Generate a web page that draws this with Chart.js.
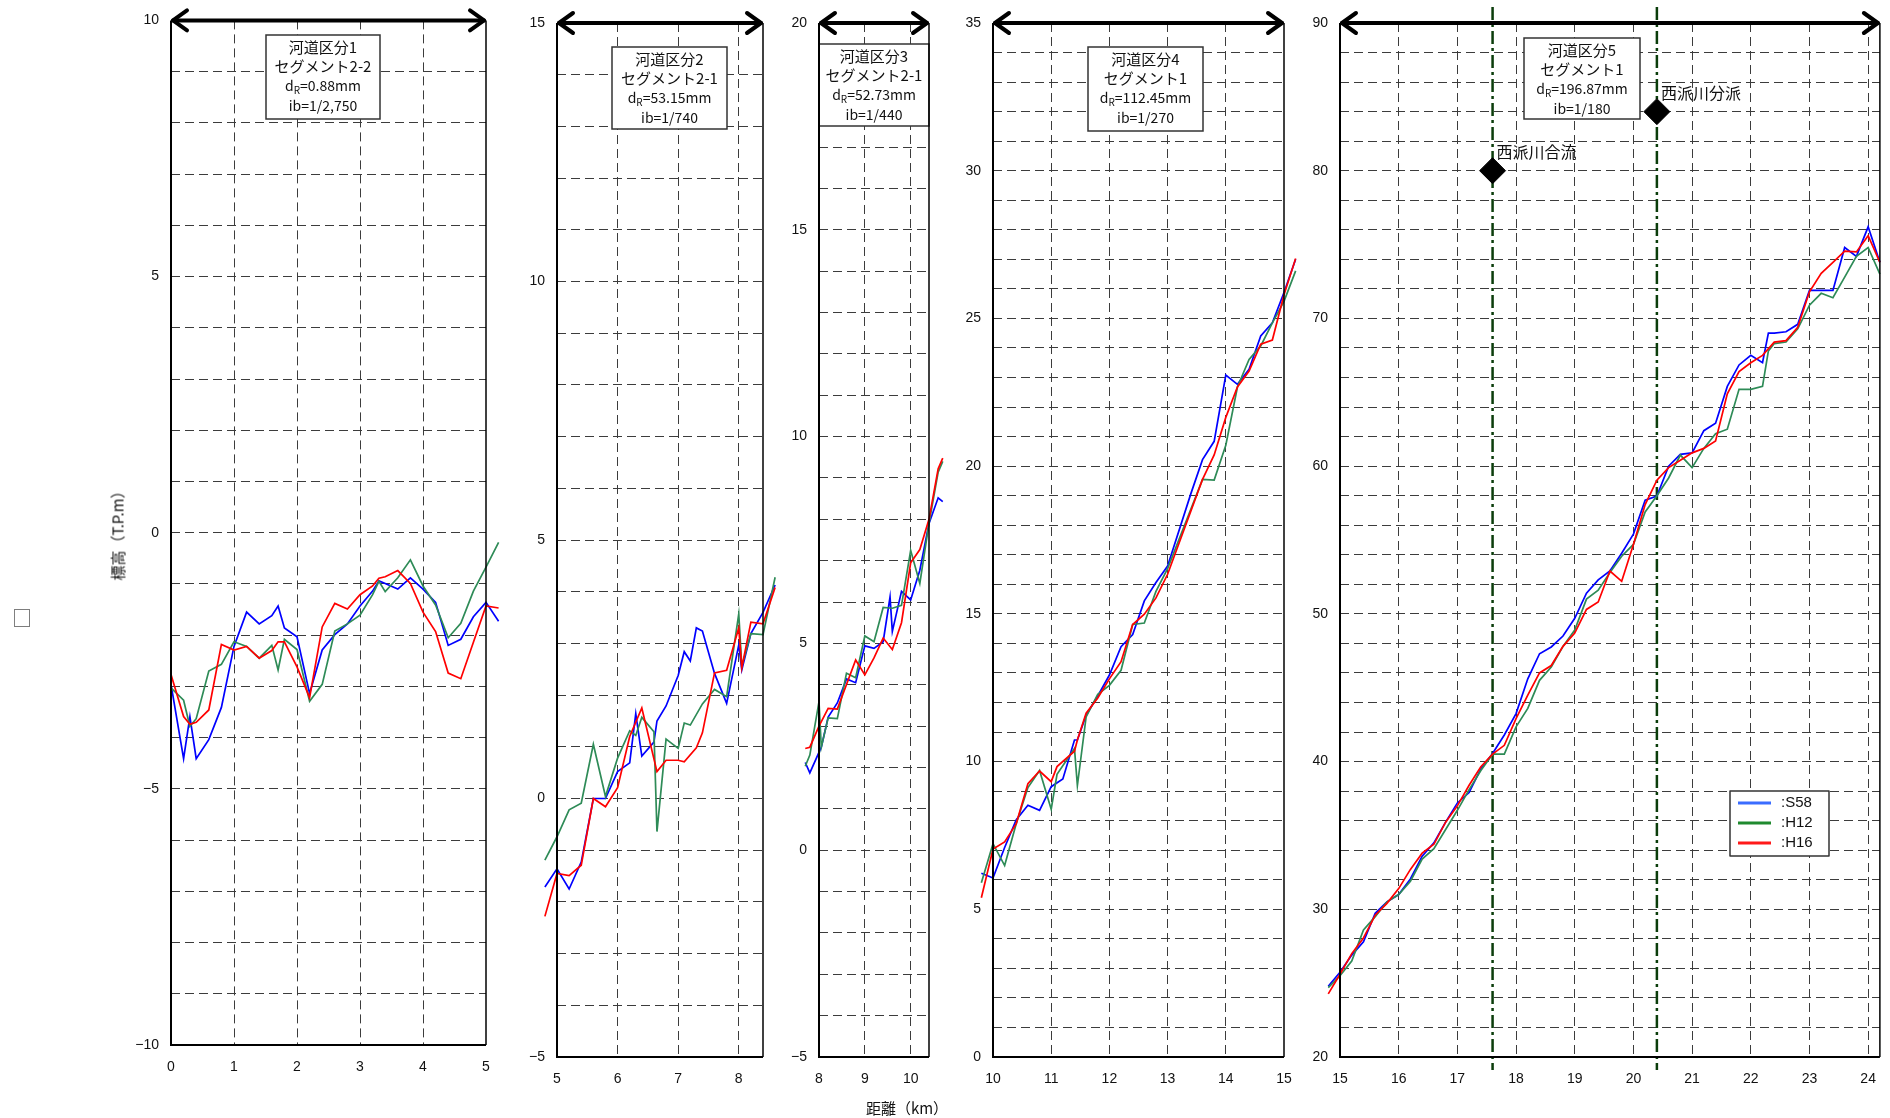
<!DOCTYPE html>
<html><head><meta charset="utf-8">
<script src="https://cdn.jsdelivr.net/npm/chart.js@4.4.1/dist/chart.umd.min.js"></script>
<style>
html,body{margin:0;padding:0;background:#fff;}
#wrap{position:relative;width:1890px;height:1118px;overflow:hidden;background:#fff;}
#wrap canvas{position:absolute;left:0;top:0;}
.t{position:absolute;font-family:"Noto Sans CJK JP",sans-serif;color:#111;white-space:nowrap;}
</style></head>
<body><div id="wrap">
<canvas id="c1" width="1890" height="1118"></canvas>
<canvas id="c2" width="1890" height="1118"></canvas>
<canvas id="c3" width="1890" height="1118"></canvas>
<canvas id="c4" width="1890" height="1118"></canvas>
<canvas id="c5" width="1890" height="1118"></canvas>
<div class="t" id="ytitle" style="left:117px;top:532px;font-size:15px;transform:translate(-50%,-50%) rotate(-90deg);">標高（T.P.m）</div>
<div class="t" id="xtitle" style="left:907px;top:1107px;font-size:15px;transform:translate(-50%,-50%);">距離（km）</div>
<div class="t" id="sq" style="left:22px;top:617px;font-size:20px;color:#555;transform:translate(-50%,-50%);">□</div>
</div>
<script>
// ---------------- data ----------------
const seriesNames = ['S58', 'H12', 'H16'];

const dist1 = [0,0.2,0.3,0.4,0.6,0.8,1.0,1.2,1.4,1.6,1.7,1.8,2.0,2.2,2.4,2.6,2.8,3.0,3.2,3.3,3.4,3.6,3.8,4.0,4.2,4.4,4.6,4.8,5.0,5.2];
const s58_1 = [-2.96,-4.41,-3.59,-4.41,-4.04,-3.41,-2.22,-1.55,-1.78,-1.62,-1.43,-1.86,-2.03,-3.14,-2.29,-1.99,-1.78,-1.43,-1.14,-0.94,-0.99,-1.10,-0.88,-1.10,-1.36,-2.20,-2.08,-1.64,-1.36,-1.73];
const h12_1 = [-3.03,-3.27,-3.78,-3.63,-2.70,-2.57,-2.13,-2.22,-2.45,-2.20,-2.68,-2.08,-2.28,-3.29,-2.96,-1.92,-1.78,-1.61,-1.21,-0.95,-1.15,-0.88,-0.53,-1.04,-1.41,-2.05,-1.77,-1.14,-0.67,-0.19];
const h16_1 = [-2.77,-3.59,-3.74,-3.70,-3.46,-2.18,-2.29,-2.22,-2.45,-2.30,-2.13,-2.13,-2.62,-3.22,-1.84,-1.38,-1.49,-1.21,-1.04,-0.89,-0.86,-0.74,-0.99,-1.55,-1.93,-2.74,-2.85,-2.14,-1.43,-1.47];

const dist2 = [4.8,5.0,5.2,5.4,5.6,5.8,6.0,6.2,6.3,6.4,6.6,6.65,6.8,7.0,7.1,7.2,7.3,7.4,7.6,7.8,8.0,8.05,8.2,8.4,8.6];
const s58_2 = [-1.71,-1.36,-1.75,-1.23,0.0,0.0,0.52,0.69,1.64,0.82,1.09,1.50,1.79,2.38,2.84,2.66,3.30,3.24,2.42,1.84,2.97,2.49,3.19,3.60,4.13];
const h12_2 = [-1.19,-0.74,-0.22,-0.09,1.05,0.04,0.78,1.31,1.22,1.57,1.29,-0.64,1.15,0.97,1.46,1.42,null,1.83,2.11,1.97,3.57,2.56,3.19,3.17,4.28];
const h16_2 = [-2.28,-1.45,-1.49,-1.29,0.0,-0.16,0.21,1.20,null,1.75,null,0.52,0.74,0.74,0.71,null,0.98,1.27,2.43,2.48,3.30,2.53,3.41,3.38,4.08];

const dist3 = [7.7,7.8,8.0,8.05,8.2,8.4,8.6,8.8,9.0,9.2,9.4,9.55,9.6,9.8,10.0,10.2,10.4,10.6,10.7];
const s58_3 = [2.12,1.87,null,2.49,3.22,3.56,4.14,4.05,4.94,4.88,5.04,6.12,5.29,6.26,6.05,6.77,7.9,8.52,8.43];
const h12_3 = [2.03,2.3,3.59,2.49,3.20,3.18,4.28,4.17,5.18,5.04,5.87,null,5.85,5.92,7.25,6.45,7.9,9.14,9.40];
const h16_3 = [2.46,2.49,3.0,null,3.43,3.41,null,4.60,4.24,4.65,5.13,null,4.85,5.50,6.95,7.27,8.0,9.22,9.48];

const dist4 = [9.8,10.0,10.2,10.4,10.6,10.8,11.0,11.1,11.2,11.4,11.45,11.6,11.8,12.0,12.2,12.4,12.6,12.8,13.0,13.4,13.6,13.8,14.0,14.2,14.4,14.6,14.8,15.0,15.2];
const s58_4 = [6.22,6.06,7.09,8.03,8.52,8.35,9.15,null,9.41,10.73,10.73,11.57,12.22,12.93,13.89,14.30,15.44,16.06,16.62,19.07,20.22,20.84,23.08,22.77,23.28,24.41,24.85,25.88,27.0];
const h12_4 = [5.90,7.22,6.48,7.90,9.12,9.70,8.39,9.57,null,10.44,9.19,11.51,12.28,12.58,13.09,14.64,14.69,15.76,16.53,null,19.55,19.53,20.71,22.68,23.61,24.07,24.85,25.58,26.61];
const h16_4 = [5.39,7.04,7.28,7.90,9.25,9.68,9.32,9.83,null,10.35,10.73,11.64,12.15,12.80,13.38,14.64,14.99,15.54,16.34,null,19.55,20.38,21.65,22.68,23.22,24.13,24.27,25.8,27.03];

const dist5 = [14.8,15.0,15.2,15.4,15.6,15.8,16.0,16.2,16.4,16.6,16.8,17.0,17.2,17.4,17.6,17.8,18.0,18.2,18.4,18.6,18.8,19.0,19.2,19.4,19.6,19.8,20.0,20.2,20.4,20.6,20.8,21.0,21.2,21.4,21.6,21.8,22.0,22.2,22.3,22.4,22.6,22.8,23.0,23.2,23.4,23.6,23.8,24.0,24.2];
const s58_5 = [24.79,25.74,26.9,27.8,29.73,30.5,31.0,32.05,33.6,34.5,35.9,37.2,37.9,39.5,40.55,41.8,43.25,45.6,47.3,47.76,48.5,49.7,51.4,52.3,52.9,54.1,55.4,57.7,57.97,60.0,60.8,60.9,62.4,62.9,65.4,66.85,67.5,67.0,69.0,69.0,69.1,69.6,71.9,71.9,71.9,74.8,74.2,76.2,73.8];
const h12_5 = [24.7,25.5,26.5,28.6,29.5,30.5,31.0,31.9,33.4,34.1,35.4,36.7,38.1,39.4,40.5,40.5,42.35,43.6,45.5,46.4,47.8,48.9,51.0,51.6,52.8,53.9,54.7,56.9,58.0,59.2,60.75,59.9,61.2,62.2,62.5,65.2,65.2,65.4,67.8,68.3,68.4,69.3,70.9,71.7,71.4,72.8,74.2,74.8,73.0];
const h16_5 = [24.27,25.6,27.0,28.06,29.6,30.4,31.4,32.7,33.8,34.4,35.9,37.0,38.4,39.65,40.5,41.1,42.9,44.5,46.0,46.5,47.8,48.7,50.3,50.8,52.9,52.2,54.7,57.4,59.05,59.9,60.4,60.9,61.2,61.7,64.9,66.4,67.0,67.5,null,68.4,68.5,69.4,71.8,73.05,73.8,74.55,74.5,75.6,73.8];

const reachNames = ['河道区分1','河道区分2','河道区分3','河道区分4','河道区分5'];
const segmentNames = ['セグメント2-2','セグメント2-1','セグメント2-1','セグメント1','セグメント1'];
const grainSizes = ['0.88mm','53.15mm','52.73mm','112.45mm','196.87mm'];
const bedSlopes = ['1/2,750','1/740','1/440','1/270','1/180'];

const markerNames = ['西派川合流','西派川分派'];
const markerKm = [17.6, 20.4];
const markerElev = [80, 84];

// ---------------- layout / style ----------------
const COLORS = ['#0000ff', '#2e8b57', '#ff0000'];
const LEGEND_COLORS = ['#3a6cff', '#1f8a2e', '#ff1a1a'];
const YW = 50, XH = 40, W = 1890, H = 1118;
const panels = [
  {dist:dist1, vals:[s58_1,h12_1,h16_1], area:{l:171,r:486,t:20,b:1045}, xr:[0,5], yr:[-10,10], yStep:1, yLab:5, box:{l:266,t:35,w:114,h:84}},
  {dist:dist2, vals:[s58_2,h12_2,h16_2], area:{l:557,r:763,t:23,b:1057}, xr:[5,8.4], yr:[-5,15], yStep:1, yLab:5, box:{l:612,t:47,w:115,h:82}},
  {dist:dist3, vals:[s58_3,h12_3,h16_3], area:{l:819,r:929,t:23,b:1057}, xr:[8,10.4], yr:[-5,20], yStep:1, yLab:5, box:{l:819,t:44,w:110,h:82}},
  {dist:dist4, vals:[s58_4,h12_4,h16_4], area:{l:993,r:1284,t:23,b:1057}, xr:[10,15], yr:[0,35], yStep:1, yLab:5, box:{l:1088,t:47,w:115,h:84}},
  {dist:dist5, vals:[s58_5,h12_5,h16_5], area:{l:1340,r:1887,t:23,b:1057}, xr:[15,24.2], yr:[20,90], yStep:2, yLab:10, box:{l:1524,t:38,w:116,h:81}}
];
const CJK = '"Noto Sans CJK JP", sans-serif';
const NUMF = '"Liberation Sans", Arial, sans-serif';
const fmt = v => (v < 0 ? '\u2212' + Math.abs(v) : String(v));
const GRID = '#3c3c3c';
const NONE = 'rgba(0,0,0,0)';

function line(ctx, x1, y1, x2, y2) { ctx.beginPath(); ctx.moveTo(x1, y1); ctx.lineTo(x2, y2); ctx.stroke(); }

function makePanel(i) {
  const P = panels[i];
  const datasets = P.vals.map((v, k) => ({
    label: seriesNames[k],
    data: P.dist.map((d, j) => ({x: d, y: v[j]})),
    borderColor: COLORS[k], backgroundColor: COLORS[k],
    borderWidth: 1.7, pointRadius: 0, tension: 0, spanGaps: true, clip: false, fill: false,
    order: 3 - k
  }));
  if (i === 4) {
    datasets.push({
      label: 'markers', type: 'scatter',
      data: markerKm.map((d, j) => ({x: d, y: markerElev[j]})),
      pointStyle: 'rectRot', pointRadius: 13, backgroundColor: '#000', borderColor: '#000',
      showLine: false, clip: false, order: 0
    });
  }
  const decor = {
    id: 'decor' + i,
    beforeDatasetsDraw(chart) {
      const ctx = chart.ctx;
      const xs = chart.scales.x;
      ctx.save();
      if (i === 4) {
        ctx.strokeStyle = '#0b3d0b'; ctx.lineWidth = 2.5; ctx.setLineDash([13, 4, 3, 4]);
        markerKm.forEach(k => { const px = xs.getPixelForValue(k); line(ctx, px, 7, px, 1070); });
        ctx.setLineDash([]);
      }
      // annotation box
      const b = P.box;
      ctx.fillStyle = '#fff'; ctx.fillRect(b.l, b.t, b.w, b.h);
      ctx.strokeStyle = '#333'; ctx.lineWidth = 1.5; ctx.strokeRect(b.l, b.t, b.w, b.h);
      const cx = b.l + b.w / 2;
      ctx.fillStyle = '#111'; ctx.textAlign = 'center'; ctx.textBaseline = 'middle';
      ctx.font = '15px ' + CJK;
      ctx.fillText(reachNames[i], cx, b.t + 12);
      ctx.fillText(segmentNames[i], cx, b.t + 31);
      ctx.font = '14px ' + CJK;
      const rest = '=' + grainSizes[i];
      const wd = ctx.measureText('d').width, wrest = ctx.measureText(rest).width;
      ctx.font = '10px ' + CJK; const wr = ctx.measureText('R').width;
      let sx = cx - (wd + wr + wrest) / 2; const yy = b.t + 51;
      ctx.textAlign = 'left';
      ctx.font = '14px ' + CJK; ctx.fillText('d', sx, yy);
      ctx.font = '10px ' + CJK; ctx.fillText('R', sx + wd, yy + 4);
      ctx.font = '14px ' + CJK; ctx.fillText(rest, sx + wd + wr, yy);
      ctx.textAlign = 'center';
      ctx.fillText('ib=' + bedSlopes[i], cx, b.t + 71);
      ctx.restore();
    },
    afterDatasetsDraw(chart) {
      const ctx = chart.ctx;
      const {left, right, top, bottom} = chart.chartArea;
      ctx.save();
      ctx.strokeStyle = '#000';
      ctx.lineWidth = 2; line(ctx, left, top, left, bottom + 1);
      line(ctx, left - 1, bottom, right, bottom);
      ctx.lineWidth = 1.5; line(ctx, right, top, right, bottom);
      // double-headed arrow on top
      ctx.lineWidth = 4; ctx.lineCap = 'round'; ctx.lineJoin = 'round';
      line(ctx, left + 2, top, right - 2, top);
      ctx.beginPath(); ctx.moveTo(left + 16, top - 10); ctx.lineTo(left + 2, top); ctx.lineTo(left + 16, top + 10); ctx.stroke();
      ctx.beginPath(); ctx.moveTo(right - 16, top - 10); ctx.lineTo(right - 2, top); ctx.lineTo(right - 16, top + 10); ctx.stroke();
      if (i === 4) {
        const xs = chart.scales.x, ys = chart.scales.y;
        ctx.fillStyle = '#111'; ctx.font = '16px ' + CJK; ctx.textAlign = 'left'; ctx.textBaseline = 'middle';
        markerKm.forEach((k, j) => {
          ctx.fillText(markerNames[j], xs.getPixelForValue(k) + 4, ys.getPixelForValue(markerElev[j]) - 19);
        });
        // legend
        const lx = 1730, ly = 791, lw = 99, lh = 65;
        ctx.fillStyle = '#fff'; ctx.fillRect(lx, ly, lw, lh);
        ctx.strokeStyle = '#333'; ctx.lineWidth = 1.5; ctx.lineCap = 'butt'; ctx.strokeRect(lx, ly, lw, lh);
        ctx.font = '15px ' + NUMF;
        seriesNames.forEach((n, k) => {
          const yy = ly + 12 + k * 20;
          ctx.strokeStyle = LEGEND_COLORS[k]; ctx.lineWidth = 3; line(ctx, lx + 8, yy, lx + 41, yy);
          ctx.fillStyle = '#111'; ctx.fillText(':' + n, lx + 51, yy);
        });
      }
      ctx.restore();
    }
  };
  const A = P.area;
  const xlo = P.xr[0], xhi = P.xr[1];
  const kmTicks = [];
  for (let v = Math.ceil(xlo); v <= Math.floor(xhi); v++) kmTicks.push(v);
  return new Chart(document.getElementById('c' + (i + 1)), {
    type: 'line',
    data: {datasets},
    options: {
      responsive: false, animation: false, events: [],
      layout: {autoPadding: false, padding: {left: A.l - YW, right: W - A.r, top: A.t, bottom: H - A.b - XH}},
      plugins: {legend: {display: false}, tooltip: {enabled: false}, title: {display: false}},
      scales: {
        x: {
          type: 'linear', position: 'bottom', bounds: 'data',
          // range set after data limits so that the end points just beyond the range stay drawn
          afterDataLimits: s => { s.min = xlo; s.max = xhi; },
          afterBuildTicks: s => { s.ticks = kmTicks.map(v => ({value: v})); },
          afterFit: s => { s.height = XH; },
          ticks: {autoSkip: false, maxRotation: 0, padding: 14,
            font: {family: NUMF, size: 14}, color: '#111',
            callback: v => fmt(v)},
          grid: {drawTicks: false, lineWidth: 1,
            color: c => { const v = c.tick ? c.tick.value : null; return (v === null || v === xlo || v === xhi) ? NONE : GRID; }},
          border: {display: false, dash: [9, 5]}
        },
        y: {
          type: 'linear', position: 'left', min: P.yr[0], max: P.yr[1],
          afterFit: s => { s.width = YW; },
          ticks: {stepSize: P.yStep, autoSkip: false, padding: 12,
            font: {family: NUMF, size: 14}, color: '#111',
            callback: v => (Math.round(v) % P.yLab === 0 ? fmt(v) : '')},
          grid: {drawTicks: false, lineWidth: 1,
            color: c => { const v = c.tick ? c.tick.value : null; return (v === null || v === P.yr[0]) ? NONE : GRID; }},
          border: {display: false, dash: [9, 5]}
        }
      }
    },
    plugins: [decor]
  });
}
panels.forEach((p, i) => makePanel(i));
</script>
</body></html>
